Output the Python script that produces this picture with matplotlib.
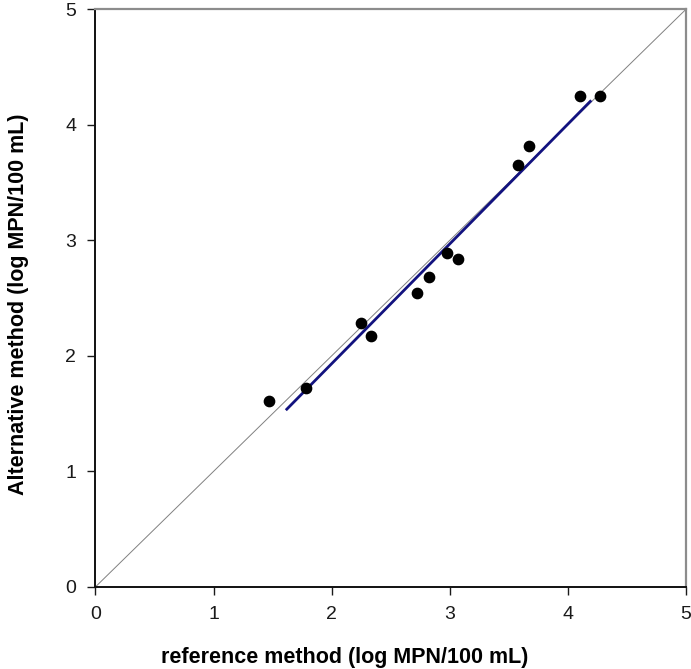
import numpy as np
import matplotlib
matplotlib.use("Agg")
import matplotlib.pyplot as plt

plt.rcParams['font.family'] = ['Liberation Sans', 'DejaVu Sans']

# log MPN/100 mL, paired samples
reference_log = [1.47, 1.78, 2.25, 2.33, 2.72, 2.82, 2.98, 3.07, 3.58, 3.67, 4.10, 4.27]
alternative_log = [1.61, 1.72, 2.28, 2.17, 2.54, 2.68, 2.89, 2.84, 3.65, 3.82, 4.25, 4.25]

# fitted regression line (slope, intercept) and the x span it is drawn over
fit_slope = 1.037
fit_intercept = -0.142
fit_range = [1.62, 4.19]

axis_ticks = [0, 1, 2, 3, 4, 5]

fig = plt.figure(figsize=(6.91, 6.69), dpi=100)
ax = fig.add_axes([0.1382, 0.1228, 0.8545, 0.8633])

# line of equality
ax.plot([0, 5], [0, 5], color='#808080', lw=0.7, zorder=1)

fx = np.array(fit_range)
ax.plot(fx, fit_slope * fx + fit_intercept, color='#12127f', lw=2.0, zorder=2)

ax.scatter(reference_log, alternative_log, s=55, color='black', zorder=3)

ax.set_xlim(0, 5)
ax.set_ylim(0, 5)
ax.set_xticks(axis_ticks)
ax.set_yticks(axis_ticks)
ax.tick_params(direction='out', length=6, width=1, labelsize=14, pad=8, colors='#1a1a1a')

for side in ('left', 'bottom'):
    ax.spines[side].set_color('#111111')
    ax.spines[side].set_linewidth(1.4)
for side in ('top', 'right'):
    ax.spines[side].set_color('#8c8c8c')
    ax.spines[side].set_linewidth(1.6)

ax.set_xlabel('reference method (log MPN/100 mL)', fontsize=15.5, fontweight='bold')
ax.set_ylabel('Alternative method (log MPN/100 mL)', fontsize=15.5, fontweight='bold')
ax.xaxis.set_label_coords(0.422, -0.123)
ax.yaxis.set_label_coords(-0.131, 0.49)
ax.xaxis.label.set_va('center')
ax.yaxis.label.set_va('center')

fig.savefig('out.png', dpi=100)
